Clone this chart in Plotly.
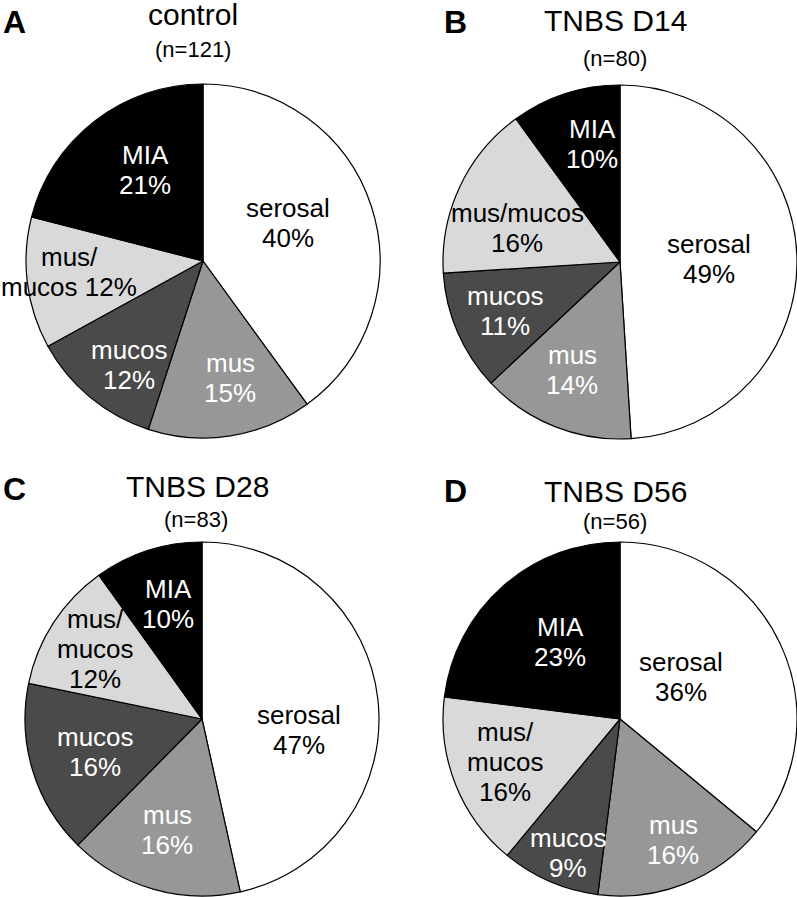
import plotly.graph_objects as go

# ---------------- data ----------------
categories = ["serosal", "mus", "mucos", "mus/mucos", "MIA"]
panel_letters = ["A", "B", "C", "D"]
titles = ["control", "TNBS D14", "TNBS D28", "TNBS D56"]
n_values = [121, 80, 83, 56]
values_A = [40, 15, 12, 12, 21]
values_B = [49, 14, 11, 16, 10]
values_C = [47, 16, 16, 12, 10]
values_D = [36, 16, 9, 16, 23]

# ---------------- style / layout ----------------
W, H = 797, 897
slice_colors = ["#ffffff", "#979797", "#4a4a4a", "#d9d9d9", "#000000"]
text_colors = ["black", "white", "white", "black", "white"]
FONT = "Liberation Sans, Arial, sans-serif"
R = 177
centers = [(203, 261), (620, 262), (202, 719), (620, 719)]
title_pos = [(193, 14), (615, 20.5), (197, 486.5), (615, 491.5)]
n_pos = [(193, 49), (615, 58), (196, 519), (615, 521)]
letter_pos = [(14, 22), (455, 22), (14, 489), (455, 491)]
# per-panel label block centers (px) and line-break style
label_pos = [
    [(288, 223), (230, 378), (129, 365), (69, 272), (145, 170)],
    [(709, 259), (572, 370), (505, 311), (517, 228), (592, 144)],
    [(299, 730), (167, 830), (95, 752), (95, 649), (168, 604)],
    [(681, 677), (673, 840), (568, 853), (505, 762), (560, 642)],
]
mm_style = ["slash2", "two", "slash3", "slash3"]
LINE = 30


def px(x):
    return x / W


def py(y):
    return 1 - y / H


def label_lines(cat, pct, style):
    if cat == "mus/mucos" and style == "slash2":
        a, b = cat.split("/")
        return [a + "/", f"{b} {pct}%"]
    if cat == "mus/mucos" and style == "slash3":
        a, b = cat.split("/")
        return [a + "/", b, f"{pct}%"]
    return [cat, f"{pct}%"]


fig = go.Figure()
annotations = []
all_values = [values_A, values_B, values_C, values_D]

for p in range(4):
    cx, cy = centers[p]
    vals = all_values[p]
    fig.add_trace(go.Pie(
        labels=categories,
        values=vals,
        sort=False,
        direction="clockwise",
        rotation=0,
        marker=dict(colors=slice_colors, line=dict(color="black", width=1.2)),
        textinfo="none",
        hoverinfo="skip",
        domain=dict(x=[max(0, px(cx - R)), min(1, px(cx + R))],
                    y=[max(0, py(cy + R)), min(1, py(cy - R))]),
        showlegend=False,
    ))
    annotations.append(dict(text=titles[p], x=px(title_pos[p][0]), y=py(title_pos[p][1]),
                            xref="paper", yref="paper", showarrow=False,
                            xanchor="center", yanchor="middle",
                            font=dict(family=FONT, size=30, color="black")))
    annotations.append(dict(text=f"(n={n_values[p]})", x=px(n_pos[p][0]), y=py(n_pos[p][1]),
                            xref="paper", yref="paper", showarrow=False,
                            xanchor="center", yanchor="middle",
                            font=dict(family=FONT, size=22, color="black")))
    annotations.append(dict(text=f"<b>{panel_letters[p]}</b>", x=px(letter_pos[p][0]), y=py(letter_pos[p][1]),
                            xref="paper", yref="paper", showarrow=False,
                            xanchor="center", yanchor="middle",
                            font=dict(family=FONT, size=32, color="black")))
    for i, cat in enumerate(categories):
        lines = label_lines(cat, vals[i], mm_style[p])
        bx, by = label_pos[p][i]
        n = len(lines)
        for k, ln in enumerate(lines):
            ly = by + (k - (n - 1) / 2) * LINE
            annotations.append(dict(text=ln, x=px(bx), y=py(ly),
                                    xref="paper", yref="paper", showarrow=False,
                                    xanchor="center", yanchor="middle",
                                    font=dict(family=FONT, size=26, color=text_colors[i])))

fig.update_layout(
    width=W, height=H,
    margin=dict(l=0, r=0, t=0, b=0),
    paper_bgcolor="white",
    plot_bgcolor="white",
    showlegend=False,
    annotations=annotations,
)

fig.write_html("out.html",
               config={"displayModeBar": False},
               post_script="document.body.style.margin='0';document.body.style.overflow='hidden';")
